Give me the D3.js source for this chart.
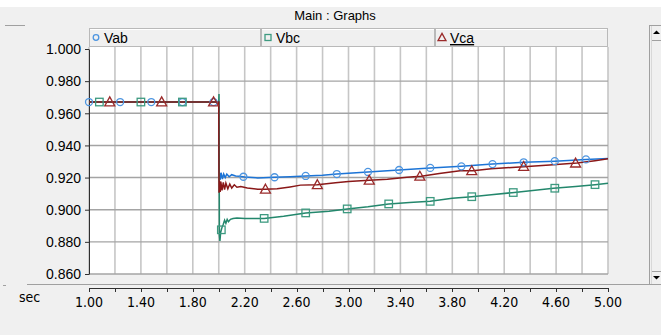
<!DOCTYPE html>
<html>
<head>
<meta charset="utf-8">
<script src="https://cdn.jsdelivr.net/npm/d3@7"></script>
<style>
  html, body { margin: 0; padding: 0; background: #f0f0f0; }
  svg { display: block; }
</style>
</head>
<body>
<svg id="chart" width="661" height="335"></svg>
<script>
// Line-voltage magnitudes (pu) around a disturbance at t = 2.0 s
const seriesNames = ["Vab", "Vbc", "Vca"];

const vabTime  = [1.00, 1.995, 2.000, 2.004, 2.010, 2.018, 2.028, 2.038, 2.050, 2.062, 2.080, 2.100, 2.130, 2.160, 2.200, 2.300, 2.430, 2.550, 2.670, 2.800, 2.910, 3.150, 3.390, 3.630, 3.870, 4.110, 4.350, 4.590, 4.830, 5.000];
const vabValue = [0.967, 0.967, 0.967, 0.9235, 0.9185, 0.9230, 0.9190, 0.9222, 0.9200, 0.9222, 0.9205, 0.9218, 0.9210, 0.9208, 0.9204, 0.9198, 0.9202, 0.9205, 0.9210, 0.9215, 0.9222, 0.9235, 0.9247, 0.9260, 0.9270, 0.9284, 0.9295, 0.9302, 0.9313, 0.9318];

const vbcTime  = [1.00, 1.995, 2.000, 2.002, 2.005, 2.009, 2.015, 2.025, 2.035, 2.045, 2.055, 2.065, 2.075, 2.090, 2.110, 2.140, 2.200, 2.350, 2.500, 2.670, 2.850, 2.990, 3.150, 3.310, 3.470, 3.630, 3.800, 3.950, 4.100, 4.260, 4.420, 4.580, 4.750, 4.900, 5.000];
const vbcValue = [0.967, 0.967, 0.967, 0.972, 0.884, 0.8805, 0.8860, 0.8890, 0.8910, 0.8935, 0.8915, 0.8940, 0.8925, 0.8940, 0.8945, 0.8948, 0.8945, 0.8946, 0.8960, 0.8980, 0.8990, 0.9005, 0.9018, 0.9036, 0.9045, 0.9052, 0.9071, 0.9081, 0.9093, 0.9106, 0.9120, 0.9133, 0.9145, 0.9156, 0.9164];

const vcaTime  = [1.00, 1.995, 2.000, 2.002, 2.006, 2.011, 2.016, 2.025, 2.035, 2.045, 2.055, 2.070, 2.085, 2.100, 2.120, 2.140, 2.170, 2.220, 2.300, 2.360, 2.450, 2.550, 2.630, 2.760, 2.900, 3.000, 3.160, 3.300, 3.450, 3.560, 3.700, 3.860, 3.960, 4.100, 4.350, 4.550, 4.760, 4.900, 5.000];
const vcaValue = [0.967, 0.967, 0.967, 0.9105, 0.9180, 0.9110, 0.9175, 0.9120, 0.9170, 0.9125, 0.9165, 0.9130, 0.9160, 0.9135, 0.9155, 0.9140, 0.9145, 0.9135, 0.9128, 0.9127, 0.9130, 0.9142, 0.9153, 0.9155, 0.9168, 0.9175, 0.9183, 0.9190, 0.9202, 0.9208, 0.9225, 0.9243, 0.9242, 0.9255, 0.9268, 0.9278, 0.9290, 0.9305, 0.9317];

// Marker positions along each trace (seconds)
const vabMarkers = [1.00, 1.24, 1.48, 1.72, 1.96, 2.19, 2.43, 2.67, 2.91, 3.15, 3.39, 3.63, 3.87, 4.11, 4.35, 4.59, 4.83];
const vbcMarkers = [1.08, 1.40, 1.72, 2.02, 2.35, 2.67, 2.99, 3.31, 3.63, 3.95, 4.27, 4.59, 4.90];
const vcaMarkers = [1.16, 1.56, 1.96, 2.36, 2.76, 3.16, 3.55, 3.95, 4.35, 4.75];

// Axis ticks
const yTicks = [0.86, 0.88, 0.90, 0.92, 0.94, 0.96, 0.98, 1.00];
const yTickLabels = ["0.860", "0.880", "0.900", "0.920", "0.940", "0.960", "0.980", "1.000"];
const xGrid = [1.0, 1.2, 1.4, 1.6, 1.8, 2.0, 2.2, 2.4, 2.6, 2.8, 3.0, 3.2, 3.4, 3.6, 3.8, 4.0, 4.2, 4.4, 4.6, 4.8, 5.0];
const xTicks = [1.0, 1.4, 1.8, 2.2, 2.6, 3.0, 3.4, 3.8, 4.2, 4.6, 5.0];
const xTickLabels = ["1.00", "1.40", "1.80", "2.20", "2.60", "3.00", "3.40", "3.80", "4.20", "4.60", "5.00"];

const colors = { Vab: "#1c74d6", Vbc: "#23876c", Vca: "#8a1818" };
const markerColors = { Vab: "#4d95e0", Vbc: "#3d9a80", Vca: "#9a2a2a" };

const svg = d3.select("#chart");
const W = 661, H = 335;
const plotLeft = 89, plotRight = 608, plotTop = 49, plotBottom = 274;

const x = d3.scaleLinear().domain([1, 5]).range([plotLeft, plotRight]);
const y = d3.scaleLinear().domain([0.86, 1.0]).range([plotBottom, plotTop]);

function drawMarker(g, name, cx, cy, k) {
  const c = markerColors[name];
  if (name === "Vab") {
    g.append("circle").attr("cx", cx).attr("cy", cy).attr("r", 3.5 * k)
      .attr("fill", "none").attr("stroke", c).attr("stroke-width", 1.3);
  } else if (name === "Vbc") {
    const s = 7.5 * k;
    g.append("rect").attr("x", cx - s / 2).attr("y", cy - s / 2).attr("width", s).attr("height", s)
      .attr("fill", "none").attr("stroke", c).attr("stroke-width", 1.3);
  } else {
    const h = 8.5 * k, w = 10 * k;
    g.append("path").attr("d", `M${cx},${cy - h * 0.6} L${cx + w / 2},${cy + h * 0.45} L${cx - w / 2},${cy + h * 0.45} Z`)
      .attr("fill", "none").attr("stroke", c).attr("stroke-width", 1.3);
  }
}

// Window background
svg.append("rect").attr("width", W).attr("height", H).attr("fill", "#f0f0f0");
svg.append("rect").attr("width", W).attr("height", 7).attr("fill", "#ffffff");

// Title
svg.append("text").attr("x", 335).attr("y", 20).attr("text-anchor", "middle")
  .attr("font-family", "Liberation Sans, Arial, sans-serif").attr("font-size", 13).attr("fill", "#000")
  .text("Main : Graphs");

// Frame fragments
svg.append("line").attr("x1", 5).attr("x2", 25).attr("y1", 25.5).attr("y2", 25.5).attr("stroke", "#a0a0a0");
svg.append("line").attr("x1", 27).attr("x2", 649).attr("y1", 284.5).attr("y2", 284.5).attr("stroke", "#a0a0a0");
svg.append("line").attr("x1", 3).attr("x2", 6).attr("y1", 285.5).attr("y2", 285.5).attr("stroke", "#a0a0a0");

// Scrollbar
svg.append("rect").attr("x", 649.5).attr("y", 25.5).attr("width", 12).attr("height", 259)
  .attr("fill", "#f0f0f0").attr("stroke", "#a0a0a0");
svg.append("line").attr("x1", 651.5).attr("x2", 651.5).attr("y1", 26).attr("y2", 284).attr("stroke", "#d8d8d8");
svg.append("line").attr("x1", 652).attr("x2", 661).attr("y1", 40.5).attr("y2", 40.5).attr("stroke", "#a0a0a0");
svg.append("line").attr("x1", 652).attr("x2", 661).attr("y1", 271.5).attr("y2", 271.5).attr("stroke", "#a0a0a0");
svg.append("path").attr("d", "M653,34 L656.5,30.5 L660,34 Z").attr("fill", "#000");
svg.append("path").attr("d", "M653,276 L656.5,279.5 L660,276 Z").attr("fill", "#000");

// Plot background
svg.append("rect").attr("x", plotLeft).attr("y", 47).attr("width", plotRight - plotLeft).attr("height", plotBottom - 47).attr("fill", "#ffffff");

// Vertical grid
svg.append("g").selectAll("line").data(xGrid).join("line")
  .attr("x1", d => x(d)).attr("x2", d => x(d)).attr("y1", 47).attr("y2", plotBottom)
  .attr("stroke", "#c6c6c6").attr("stroke-width", 1.6);

// Horizontal grid
svg.append("g").selectAll("line").data(yTicks.slice(0, -1)).join("line")
  .attr("x1", plotLeft).attr("x2", plotRight).attr("y1", d => y(d)).attr("y2", d => y(d))
  .attr("stroke", "#a4a4a4").attr("stroke-width", 1.4);

// Y axis
const yAxis = svg.append("g").attr("transform", `translate(${plotLeft},0)`)
  .call(d3.axisLeft(y).tickValues(yTicks).tickSize(4).tickSizeOuter(0)
    .tickFormat((d, i) => yTickLabels[i]));
yAxis.select(".domain").attr("stroke", "#303030");
yAxis.selectAll(".tick line").attr("stroke", "#303030");
yAxis.selectAll(".tick text").attr("font-family", "Liberation Sans, Arial, sans-serif")
  .attr("font-size", 14).attr("fill", "#000").attr("x", -8).attr("dy", "0.34em");

// Legend header cells
const cellEdges = [89, 261, 435, 608];
const legend = svg.append("g");
seriesNames.forEach((name, i) => {
  const x0 = cellEdges[i], x1 = cellEdges[i + 1];
  legend.append("rect").attr("x", x0 + 0.5).attr("y", 28.5).attr("width", x1 - x0 - 1).attr("height", 18)
    .attr("fill", "#f0f0f0").attr("stroke", "#b9b9b9");
  legend.append("line").attr("x1", x0 + 1).attr("x2", x1 - 1).attr("y1", 29.5).attr("y2", 29.5).attr("stroke", "#ffffff");
  drawMarker(legend, name, x0 + 7, 37.5, 0.8);
  const t = legend.append("text").attr("x", x0 + 15).attr("y", 43)
    .attr("font-family", "Liberation Sans, Arial, sans-serif").attr("font-size", 14).attr("fill", "#000")
    .text(name);
  if (name === "Vca") t.attr("text-decoration", "underline");
});

// X axis (separate strip below the plot)
const xAxisY = 288;
svg.append("line").attr("x1", plotLeft).attr("x2", plotRight).attr("y1", xAxisY + 0.5).attr("y2", xAxisY + 0.5).attr("stroke", "#303030");
svg.append("g").selectAll("line").data(xGrid).join("line")
  .attr("x1", d => Math.round(x(d)) + 0.5).attr("x2", d => Math.round(x(d)) + 0.5)
  .attr("y1", xAxisY).attr("y2", xAxisY + 4).attr("stroke", "#303030");
svg.append("g").selectAll("text").data(xTicks).join("text")
  .attr("x", d => x(d)).attr("y", 306.5).attr("text-anchor", "middle")
  .attr("font-family", "Liberation Sans Narrow, DejaVu Sans Condensed, sans-serif").attr("font-size", 14)
  .attr("fill", "#000")
  .text((d, i) => xTickLabels[i]);
svg.append("text").attr("x", 19).attr("y", 301.5)
  .attr("font-family", "Liberation Sans Narrow, DejaVu Sans Condensed, sans-serif").attr("font-size", 14)
  .attr("fill", "#000").text("sec");

// Traces
const series = [
  { name: "Vab", t: vabTime, v: vabValue, m: vabMarkers },
  { name: "Vbc", t: vbcTime, v: vbcValue, m: vbcMarkers },
  { name: "Vca", t: vcaTime, v: vcaValue, m: vcaMarkers }
];

const line = d3.line().x(d => x(d[0])).y(d => y(d[1]));
const plot = svg.append("g");

function valueAt(s, t) {
  const i = d3.bisectRight(s.t, t);
  if (i <= 0) return s.v[0];
  if (i >= s.t.length) return s.v[s.v.length - 1];
  const t0 = s.t[i - 1], t1 = s.t[i];
  return s.v[i - 1] + (s.v[i] - s.v[i - 1]) * (t - t0) / (t1 - t0);
}

// Draw order: Vab, Vbc, then Vca on top
series.forEach(s => {
  plot.append("path").datum(s.t.map((t, i) => [t, s.v[i]]))
    .attr("d", line).attr("fill", "none").attr("stroke", colors[s.name]).attr("stroke-width", 1.5);
});
series.forEach(s => {
  s.m.forEach(t => drawMarker(plot, s.name, x(t), y(valueAt(s, t)), 1));
});
</script>
</body>
</html>
